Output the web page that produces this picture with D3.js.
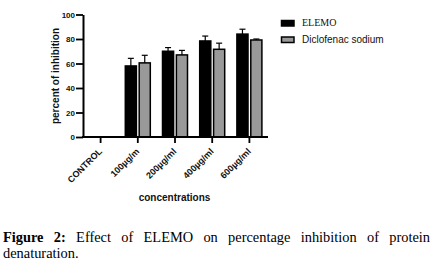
<!DOCTYPE html>
<html>
<head>
<meta charset="utf-8">
<script src="https://cdn.jsdelivr.net/npm/d3@7"></script>
<style>
  body { margin: 0; background: #fff; }
  #chart { position: relative; width: 445px; height: 267px; }
  .caption {
    position: absolute; left: 3px; top: 229px; width: 427px;
    font-family: "Liberation Serif", "Times New Roman", serif;
    font-size: 14.4px; line-height: 16.3px; text-align: justify; color: #000;
  }
</style>
</head>
<body>
<div id="chart"></div>
<script>
const categories = ['CONTROL', '100µg/m', '200µg/ml', '400µg/ml', '600µg/ml'];
const seriesNames = ['ELEMO', 'Diclofenac sodium'];
const elemoValues = [0, 58, 70, 78.4, 84];
const elemoErrors = [0, 6.2, 3, 4, 4];
const diclofenacValues = [0, 60.5, 67, 71.6, 79.2];
const diclofenacErrors = [0, 6.2, 3.7, 5, 0.8];
const yTicks = [0, 20, 40, 60, 80, 100];

const colors = {'ELEMO': '#000', 'Diclofenac sodium': '#999'};
const sans = '"Liberation Sans", Arial, sans-serif';

const rows = [];
categories.forEach((c, i) => {
    rows.push({cat: c, series: 'ELEMO', value: elemoValues[i], err: elemoErrors[i]});
    rows.push({cat: c, series: 'Diclofenac sodium', value: diclofenacValues[i], err: diclofenacErrors[i]});
});

const svg = d3.select('#chart')
    .append('svg')
    .attr('width', 445)
    .attr('height', 267)
    .style('position', 'absolute')
    .style('left', 0)
    .style('top', 0);

const x = d3.scaleBand()
    .domain(categories)
    .range([82, 268]);

const xs = d3.scaleBand()
    .domain(seriesNames)
    .range([-12.5, 12.5])
    .paddingInner(0.2);

const y = d3.scaleLinear()
    .domain([0, 100])
    .range([137, 14.5]);

const barX = d => x(d.cat) + x.bandwidth() / 2 + xs(d.series);
const shown = rows.filter(d => d.value > 0);

// bars
svg.append('g')
    .selectAll('rect')
    .data(shown)
    .join('rect')
    .attr('x', barX)
    .attr('y', d => y(d.value))
    .attr('width', xs.bandwidth())
    .attr('height', d => y(0) - y(d.value))
    .attr('fill', d => colors[d.series])
    .attr('stroke', '#000')
    .attr('stroke-width', 1.5);

// error bars (upper only)
const err = svg.append('g')
    .selectAll('g')
    .data(shown)
    .join('g')
    .attr('stroke', '#000')
    .attr('stroke-width', 1.2);

err.append('line')
    .attr('x1', d => barX(d) + xs.bandwidth() / 2)
    .attr('x2', d => barX(d) + xs.bandwidth() / 2)
    .attr('y1', d => y(d.value))
    .attr('y2', d => y(d.value + d.err));

err.append('line')
    .attr('x1', d => barX(d) + xs.bandwidth() / 2 - 3)
    .attr('x2', d => barX(d) + xs.bandwidth() / 2 + 3)
    .attr('y1', d => y(d.value + d.err))
    .attr('y2', d => y(d.value + d.err));

// Y axis
const yAxis = svg.append('g')
    .attr('transform', 'translate(83,0)')
    .call(d3.axisLeft(y).tickValues(yTicks).tickSize(7).tickSizeOuter(0));

yAxis.select('.domain').attr('stroke-width', 2);
yAxis.selectAll('.tick line').attr('stroke-width', 1.8);
yAxis.selectAll('.tick text')
    .attr('x', -8)
    .style('font-family', sans)
    .style('font-size', '8px')
    .style('font-weight', 'bold')
    .attr('fill', '#111');

// X axis
const xAxis = svg.append('g')
    .attr('transform', 'translate(0,137)')
    .call(d3.axisBottom(x).tickSize(6).tickSizeOuter(0));

xAxis.select('.domain').attr('stroke-width', 2).attr('d', 'M82,0H268');
xAxis.selectAll('.tick line').attr('stroke-width', 1.8);
xAxis.selectAll('.tick text')
    .style('font-family', sans)
    .style('font-size', '9px')
    .style('font-weight', 'bold')
    .attr('fill', '#111')
    .attr('text-anchor', 'end')
    .attr('dy', 0)
    .attr('transform', 'translate(2,15) rotate(-45)')
    .attr('y', 0)
    .attr('x', 0);

// axis titles
svg.append('text')
    .attr('transform', 'rotate(-90)')
    .attr('x', -76)
    .attr('y', 59)
    .attr('text-anchor', 'middle')
    .style('font-family', sans)
    .style('font-size', '10px')
    .style('font-weight', 'bold')
    .attr('fill', '#111')
    .text('percent of inhibition');

svg.append('text')
    .attr('x', 174.5)
    .attr('y', 201)
    .attr('text-anchor', 'middle')
    .style('font-family', sans)
    .style('font-size', '10px')
    .style('font-weight', 'bold')
    .attr('fill', '#111')
    .text('concentrations');

// legend
const legend = svg.append('g')
    .attr('transform', 'translate(281,20)');

const legendItems = legend.selectAll('g')
    .data(seriesNames)
    .join('g')
    .attr('transform', (d, i) => `translate(0, ${i * 16.5})`);

legendItems.append('rect')
    .attr('x', 0.5)
    .attr('y', 0.5)
    .attr('width', 12.5)
    .attr('height', 5.5)
    .attr('fill', d => colors[d])
    .attr('stroke', '#000')
    .attr('stroke-width', 1.5);

legendItems.append('text')
    .attr('x', 21)
    .attr('y', 6.3)
    .style('font-family', (d, i) => i === 0 ? '"Liberation Serif", serif' : sans)
    .style('font-size', '10px')
    .attr('fill', '#111')
    .text(d => d);

d3.select('#chart').append('div')
    .attr('class', 'caption')
    .html('<b>Figure 2:</b> Effect of ELEMO on percentage inhibition of protein denaturation.');
</script>
</body>
</html>
